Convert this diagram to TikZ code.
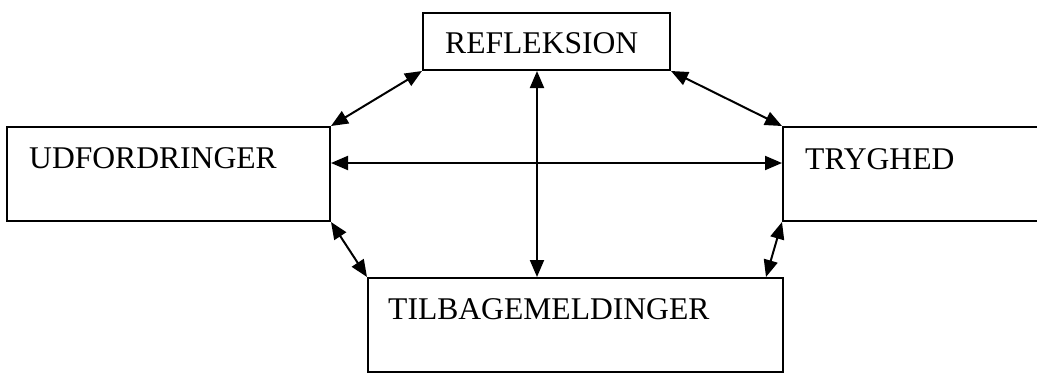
\documentclass[tikz,border=0pt]{standalone}
\usepackage{fontspec}
\setmainfont{Liberation Serif}
\usetikzlibrary{arrows.meta}
\begin{document}
\begin{tikzpicture}[x=1pt,y=-1pt,
  box/.style={draw=black,line width=2pt,rectangle,inner sep=0pt},
  lbl/.style={anchor=base west,inner sep=0pt,font=\fontsize{31.6}{36}\selectfont},
  link/.style={line width=2pt,{Triangle[length=17pt,width=14pt]}-{Triangle[length=17pt,width=14pt]}}]
\useasboundingbox (0,0) rectangle (1037,373);
\clip (0,0) rectangle (1037,373);
\node[box,minimum width=247pt,minimum height=57pt] (ref) at (546.5,41.5) {};
\node[box,minimum width=323pt,minimum height=94pt] (udf) at (168.5,174) {};
\node[box,minimum width=270pt,minimum height=94pt] (try) at (918,174) {};
\node[box,minimum width=415pt,minimum height=94pt] (til) at (575.5,325) {};
\node[lbl] (tref) at (445,53) {REFLEKSION};
\node[lbl] (tudf) at (29,168) {UDFORDRINGER};
\node[lbl] (ttry) at (805,169) {TRYGHED};
\node[lbl] (ttil) at (388,319) {TILBAGEMELDINGER};
\coordinate (vx) at (537,0);
\draw[link] (udf.north east) -- (ref.south west);
\draw[link] (ref.south east) -- (try.north west);
\draw[link] (ref.south -| vx) -- (til.north -| vx);
\draw[link] ([yshift=11pt]udf.east) -- ([yshift=11pt]try.west);
\draw[link] (udf.south east) -- (til.north west);
\draw[link] (try.south west) -- ([xshift=-18pt]til.north east);
\end{tikzpicture}
\end{document}
